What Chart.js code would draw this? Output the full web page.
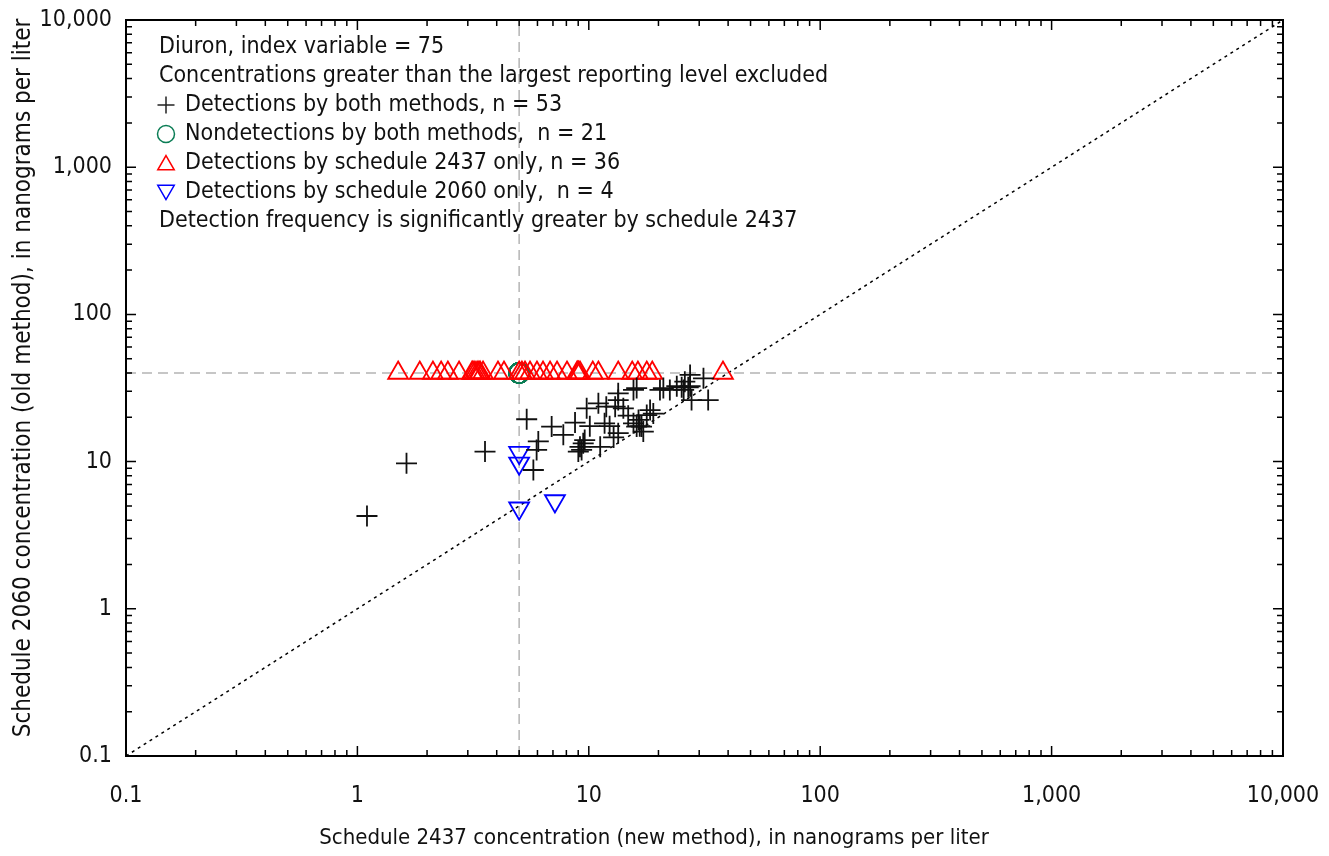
<!DOCTYPE html>
<html lang="en">
<head>
  <meta charset="UTF-8" />
  <title>Diuron comparison</title>
  <script src="https://cdn.jsdelivr.net/npm/chart.js"></script>
  <style>
    body { margin: 0; background: #fff; }
    #wrap { position: relative; width: 1329px; height: 856px; }
  </style>
</head>
<body>
  <div id="wrap"><canvas id="chart" width="1329" height="856"></canvas></div>

  <script>
    // tick labels (log axes, both the same)
    const tickValues = [0.1, 1, 10, 100, 1000, 10000];
    const tickLabels = ['0.1', '1', '10', '100', '1,000', '10,000'];

    // detections by both methods (n = 53)
    const bothX = [1.63, 1.10, 3.56, 5.39, 5.76, 6.05, 5.95, 6.91, 7.76, 8.72,
                   9.16, 9.46, 9.01, 9.31, 10.1, 9.79, 11.2, 11.7, 11.9, 12.3,
                   13.4, 13.4, 13.4, 13.0, 14.1, 15.6, 16.1, 15.6, 16.1, 16.6,
                   16.4, 17.8, 18.4, 19.0, 16.9, 20.3, 21.0, 22.4, 24.0, 25.2,
                   26.0, 27.4, 26.9, 27.8, 31.3, 32.8, 27.4, 25.7, 11.0, 12.8,
                   14.8, 17.2, 9.6];
    const bothY = [9.74, 4.27, 11.7, 19.4, 8.77, 13.7, 12.0, 17.3, 15.2, 18.4,
                   12.6, 13.3, 11.7, 12.0, 17.4, 23.0, 12.6, 18.2, 23.6, 17.4,
                   26.2, 29.1, 15.6, 23.6, 23.0, 30.7, 31.6, 18.2, 17.3, 17.4,
                   19.2, 20.7, 22.4, 21.2, 17.3, 30.7, 31.6, 30.7, 32.5, 32.0,
                   34.9, 38.8, 32.0, 26.2, 36.8, 26.2, 32.5, 30.7, 24.9, 14.6,
                   20.5, 16.0, 14.0];

    // nondetections by both methods (n = 21), all at the reporting levels
    const nondetX = Array(21).fill(5);
    const nondetY = Array(21).fill(40);

    // detections by schedule 2437 only (n = 36), old method at reporting level 40
    const newOnlyX = [1.50, 1.86, 2.12, 2.30, 2.46, 2.75, 3.13, 3.16, 3.22, 3.29,
                      3.35, 3.39, 3.49, 4.05, 4.30, 5.0, 5.14, 5.3, 5.57, 5.97,
                      6.34, 6.80, 7.29, 8.05, 8.9, 8.98, 9.0, 9.16, 10.4, 11.0,
                      13.4, 15.4, 16.3, 17.8, 18.8, 38.0];
    const newOnlyY = Array(36).fill(40);

    // detections by schedule 2060 only (n = 4), new method at reporting level 5
    const oldOnlyX = [5.0, 5.0, 5.0, 7.14];
    const oldOnlyY = [11.5, 9.74, 4.82, 5.40];

    // reference lines
    const refX = 5;
    const refY = 40;

    const legendLines = [
      { text: 'Diuron, index variable = 75' },
      { text: 'Concentrations greater than the largest reporting level excluded' },
      { text: 'Detections by both methods, n = 53', style: 'cross', color: '#222' },
      { text: 'Nondetections by both methods,  n = 21', style: 'circle', color: '#0b7d55' },
      { text: 'Detections by schedule 2437 only, n = 36', style: 'triangle', color: '#ff0000', rot: 0 },
      { text: 'Detections by schedule 2060 only,  n = 4', style: 'triangle', color: '#0000ff', rot: 180 },
      { text: 'Detection frequency is significantly greater by schedule 2437' }
    ];

    const FONT = '"Liberation Sans Narrow", "DejaVu Sans Condensed", sans-serif';
    Chart.defaults.font.family = FONT;
    Chart.defaults.color = '#111';

    const pts = (xs, ys) => xs.map((x, i) => ({ x: x, y: ys[i] }));

    // frame, inside ticks, legend text and axis titles
    const decor = {
      id: 'decor',
      afterDraw(chart) {
        const ctx = chart.ctx;
        const a = chart.chartArea;
        const xs = chart.scales.x, ys = chart.scales.y;
        ctx.save();
        ctx.strokeStyle = '#000';
        ctx.lineWidth = 1.5;
        for (let i = 0; i < tickValues.length; i++) {
          const d = tickValues[i];
          for (let m = 1; m <= 9; m++) {
            const v = d * m;
            if (v > 10000) break;
            const len = m === 1 ? 10 : 6;
            const px = xs.getPixelForValue(v);
            const py = ys.getPixelForValue(v);
            ctx.beginPath();
            ctx.moveTo(px, a.bottom); ctx.lineTo(px, a.bottom - len);
            ctx.moveTo(px, a.top); ctx.lineTo(px, a.top + len);
            ctx.moveTo(a.left, py); ctx.lineTo(a.left + len, py);
            ctx.moveTo(a.right, py); ctx.lineTo(a.right - len, py);
            ctx.stroke();
          }
        }
        ctx.lineWidth = 2;
        ctx.strokeRect(a.left, a.top, a.right - a.left, a.bottom - a.top);

        // legend block
        ctx.font = '23px ' + FONT;
        ctx.fillStyle = '#111';
        ctx.textBaseline = 'middle';
        ctx.textAlign = 'left';
        legendLines.forEach((l, i) => {
          const y = 47 + i * 29;
          if (l.style) {
            ctx.strokeStyle = l.color;
            ctx.fillStyle = 'rgba(0,0,0,0)';
            ctx.lineWidth = 1.5;
            Chart.helpers.drawPoint(ctx, {
              pointStyle: l.style, radius: l.style === 'triangle' ? 9.5 : 8.5,
              rotation: l.rot || 0, borderWidth: 1.5
            }, 166, y + (l.style === 'triangle' ? (l.rot ? -2 : 2) : 0));
            ctx.fillStyle = '#111';
            ctx.fillText(l.text, 185, y);
          } else {
            ctx.fillText(l.text, 159, y);
          }
        });

        // axis titles
        ctx.textAlign = 'center';
        ctx.font = '22px ' + FONT;
        ctx.fillText('Schedule 2437 concentration (new method), in nanograms per liter', 654, 838);
        ctx.font = '24px ' + FONT;
        ctx.translate(24, 378);
        ctx.rotate(-Math.PI / 2);
        ctx.fillText('Schedule 2060 concentration (old method), in nanograms per liter', 0, 0);
        ctx.restore();
      }
    };

    const axis = (pos) => ({
      type: 'logarithmic',
      position: pos,
      min: 0.1,
      max: 10000,
      grid: { display: false, drawTicks: false },
      border: { display: false },
      afterBuildTicks: s => { s.ticks = tickValues.map(v => ({ value: v })); },
      afterFit: s => {
        // keep label overhang from shrinking the plot box
        s.paddingLeft = 0; s.paddingRight = 0; s.paddingTop = 0; s.paddingBottom = 0;
        if (pos === 'left') s.width = 126; else s.height = 100;
      },
      ticks: {
        autoSkip: false,
        maxRotation: 0,
        padding: pos === 'left' ? 14 : 26,
        color: '#111',
        font: { size: 23 },
        callback: v => tickLabels[tickValues.indexOf(v)] ?? ''
      }
    });

    new Chart(document.getElementById('chart'), {
      type: 'scatter',
      data: {
        datasets: [
          {
            label: 'Detections by both methods',
            data: pts(bothX, bothY),
            pointStyle: 'cross', pointRadius: 10.5, borderColor: '#111',
            pointBorderWidth: 1.8, backgroundColor: 'transparent'
          },
          {
            label: 'Detections by schedule 2060 only',
            data: pts(oldOnlyX, oldOnlyY),
            pointStyle: 'triangle', pointRadius: 11.5, pointRotation: 180,
            borderColor: '#0000ff', pointBorderWidth: 1.8, backgroundColor: 'transparent'
          },
          {
            label: 'Detections by schedule 2437 only',
            data: pts(newOnlyX, newOnlyY),
            pointStyle: 'triangle', pointRadius: 11.5,
            borderColor: '#ff0000', pointBorderWidth: 1.8, backgroundColor: 'transparent'
          },
          {
            label: 'Nondetections by both methods',
            data: pts(nondetX, nondetY),
            pointStyle: 'circle', pointRadius: 10,
            borderColor: '#0b7d55', pointBorderWidth: 1.5, backgroundColor: 'transparent'
          },
          {
            type: 'line', label: '1:1',
            data: [{ x: 0.1, y: 0.1 }, { x: 10000, y: 10000 }],
            borderColor: '#000', borderWidth: 1.5, borderDash: [3, 4],
            pointRadius: 0, fill: false
          },
          {
            type: 'line', label: 'ref x',
            data: [{ x: refX, y: 0.1 }, { x: refX, y: 10000 }],
            borderColor: '#b4b4b4', borderWidth: 1.5, borderDash: [10, 6],
            pointRadius: 0, fill: false
          },
          {
            type: 'line', label: 'ref y',
            data: [{ x: 0.1, y: refY }, { x: 10000, y: refY }],
            borderColor: '#b4b4b4', borderWidth: 1.5, borderDash: [10, 6],
            pointRadius: 0, fill: false
          }
        ]
      },
      options: {
        responsive: false,
        animation: false,
        layout: { padding: { top: 20, right: 46, left: 0, bottom: 0 } },
        plugins: { legend: { display: false }, tooltip: { enabled: false } },
        scales: { x: axis('bottom'), y: axis('left') }
      },
      plugins: [decor]
    });
  </script>
</body>
</html>
